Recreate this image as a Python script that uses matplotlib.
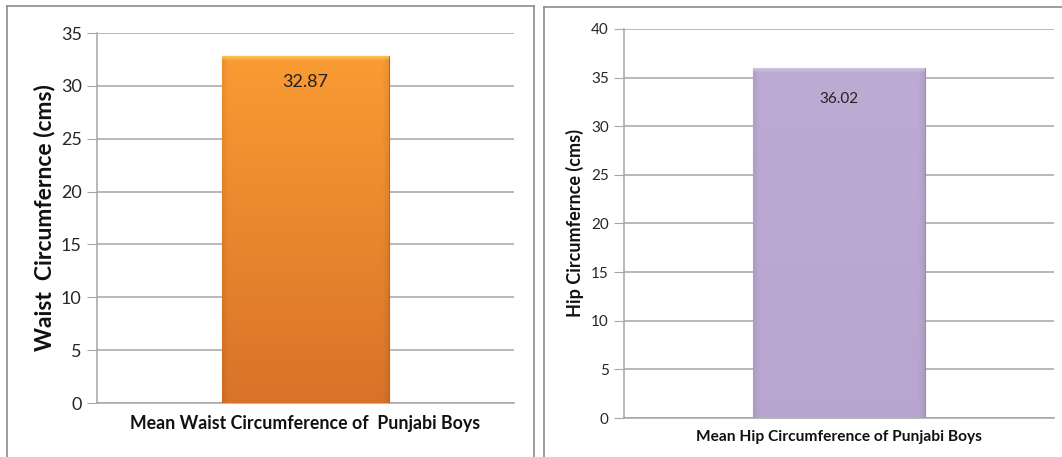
import numpy as np
import matplotlib.pyplot as plt
from matplotlib.lines import Line2D

# data
waist_label = ['Mean Waist Circumference of  Punjabi Boys']
waist_mean = [32.87]
hip_label = ['Mean Hip Circumference of Punjabi Boys']
hip_mean = [36.02]

W, H = 1062, 457
plt.rcParams['font.family'] = ['Lato', 'DejaVu Sans']

fig = plt.figure(figsize=(W / 100, H / 100), dpi=100)


def px_axes(x0, y0, x1, y1):
    # pixel box (top-left origin) -> figure axes
    return fig.add_axes([x0 / W, 1 - y1 / H, (x1 - x0) / W, (y1 - y0) / H])


def gradient_bar(ax, bar, top_rgb, bot_rgb, hi_rgb, side_dark=0.06):
    x, y = bar.get_x(), bar.get_y()
    w, h = bar.get_width(), bar.get_height()
    n, m = 400, 60
    t = np.linspace(0, 1, n)[:, None]
    col = np.array(top_rgb) * (1 - t) + np.array(bot_rgb) * t
    img = np.repeat(col[:, None, :], m, axis=1)
    # darker edges at the sides
    u = np.linspace(0, 1, m)
    shade = 1 - side_dark * np.clip(1 - np.minimum(u, 1 - u) / 0.03, 0, 1)
    img = img * shade[None, :, None]
    # thin light bevel at the top
    k = 6
    for i in range(k):
        a = 1 - i / k
        img[i] = img[i] * (1 - a) + np.array(hi_rgb) * a
    im = ax.imshow(img, extent=(x, x + w, y, y + h), aspect='auto',
                   origin='upper', zorder=bar.get_zorder() + 0.1,
                   interpolation='bilinear')
    im.set_clip_path(bar)


def style(ax, ymax, fs):
    ax.set_xlim(-0.5, 0.5)
    ax.set_ylim(0, ymax)
    ax.set_yticks(np.arange(0, ymax + 1, 5))
    ax.yaxis.grid(True, color='#a6a6a6', linewidth=1.1)
    ax.set_axisbelow(True)
    for s in ['top', 'right']:
        ax.spines[s].set_visible(False)
    for s in ['left', 'bottom']:
        ax.spines[s].set_color('#a6a6a6')
        ax.spines[s].set_linewidth(1.1)
    ax.tick_params(axis='y', length=7, color='#a6a6a6', labelsize=fs,
                   labelcolor='#262626', pad=4)
    ax.tick_params(axis='x', length=0, pad=9)


# left chart
ax1 = px_axes(97, 33, 514, 403)
style(ax1, 35, 13)
b1 = ax1.bar([0], waist_mean, width=0.4, color='none',
             edgecolor='#c0651f', linewidth=0.8, zorder=3)
gradient_bar(ax1, b1[0], (0.98, 0.61, 0.20), (0.85, 0.45, 0.16),
             (0.99, 0.80, 0.38))
ax1.set_xticks([0])
ax1.set_xticklabels(waist_label, fontsize=12.8, fontweight='bold',
                    color='#111111')
ax1.set_ylabel('Waist  Circumfernce (cms)', fontsize=16.5,
               fontweight='bold', labelpad=4, color='#111111')
ax1.text(0, waist_mean[0] - 2.55, f'{waist_mean[0]:.2f}', ha='center',
         va='center', fontsize=13, color='#222222', zorder=5)

# right chart
ax2 = px_axes(624, 29, 1054, 418)
style(ax2, 40, 11)
b2 = ax2.bar([0], hip_mean, width=0.4, color='none',
             edgecolor='#9a86b4', linewidth=0.8, zorder=3)
gradient_bar(ax2, b2[0], (0.74, 0.67, 0.83), (0.72, 0.65, 0.81),
             (0.84, 0.79, 0.91))
ax2.set_xticks([0])
ax2.set_xticklabels(hip_label, fontsize=11.2, fontweight='bold',
                    color='#111111')
ax2.set_ylabel('Hip Circumfernce (cms)', fontsize=13,
               fontweight='bold', labelpad=5, color='#111111')
ax2.text(0, hip_mean[0] - 3.2, f'{hip_mean[0]:.2f}', ha='center',
         va='center', fontsize=11, color='#222222', zorder=5)

ax1.set_xlim(-0.5, 0.5)
ax1.set_ylim(0, 35)
ax2.set_xlim(-0.5, 0.5)
ax2.set_ylim(0, 40)

# panel frames
frame = '#8c8c8c'
def fline(x0, y0, x1, y1):
    fig.add_artist(Line2D([x0 / W, x1 / W], [1 - y0 / H, 1 - y1 / H],
                          color=frame, linewidth=1.2))

fline(7, 6, 534, 6)
fline(7, 6, 7, H)
fline(534, 6, 534, H)
fline(544, 7, W, 7)
fline(544, 7, 544, H)

fig.savefig('out.png', dpi=100)
